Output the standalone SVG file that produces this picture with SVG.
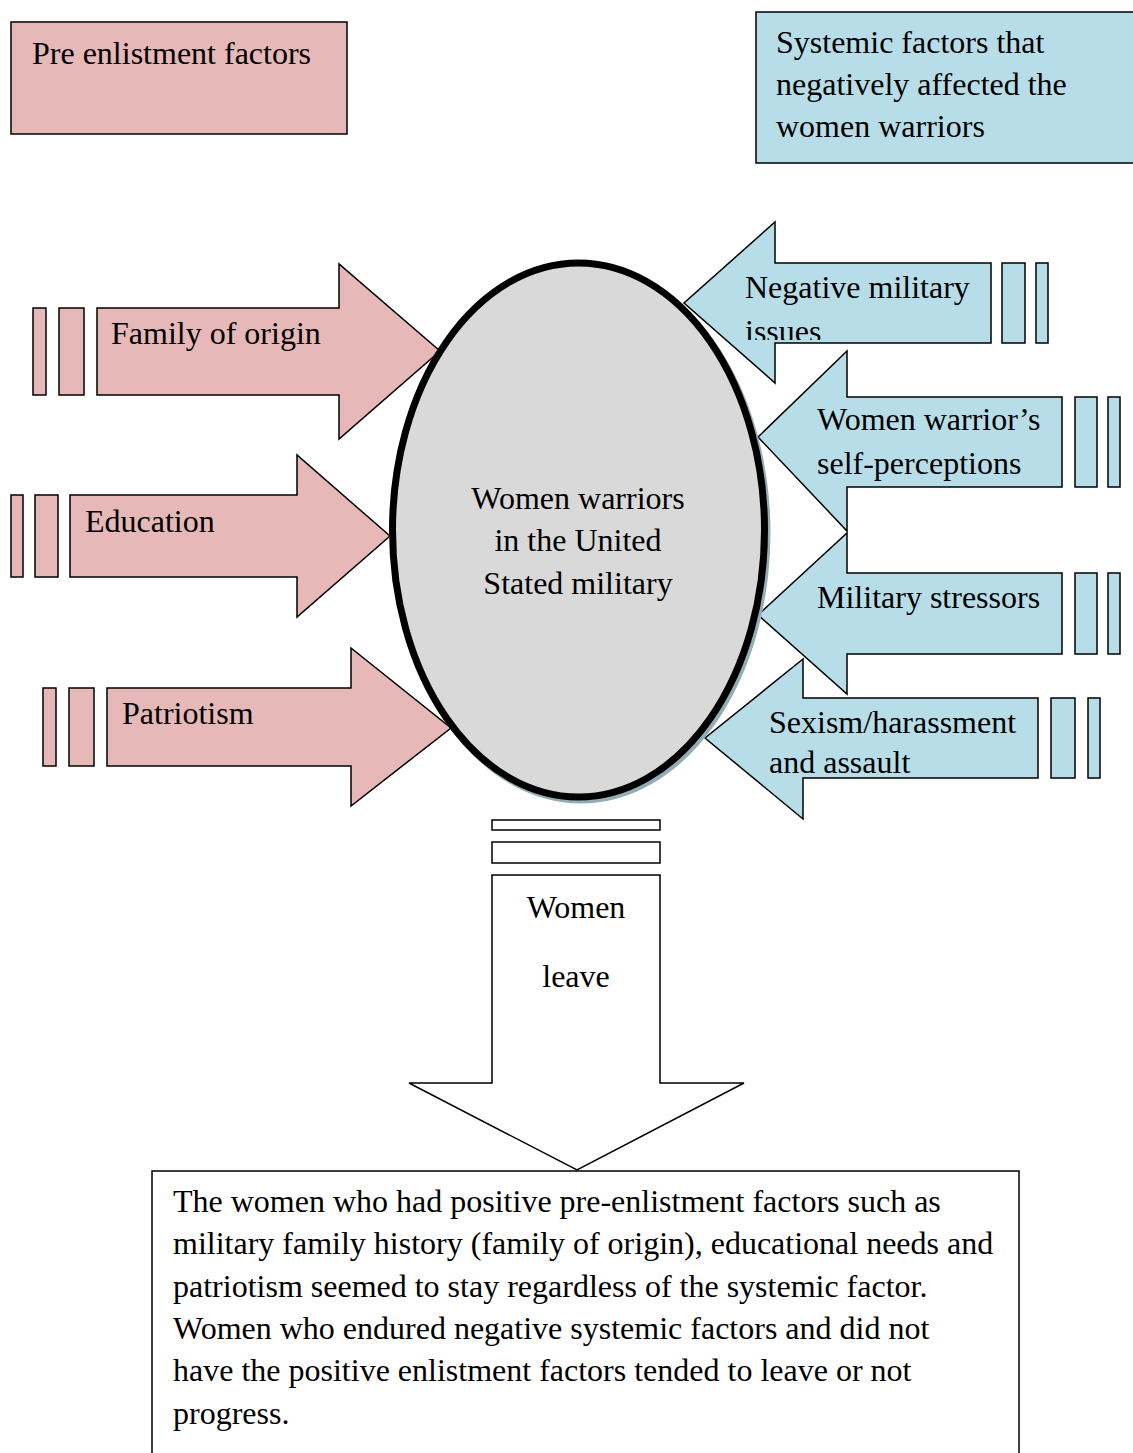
<svg xmlns="http://www.w3.org/2000/svg" width="1133" height="1453" viewBox="0 0 1133 1453">
<style>
  .pink { fill: #e6b8b7; stroke: #000; stroke-width: 1.5; stroke-linejoin: miter; }
  .blue { fill: #b7dde8; stroke: #000; stroke-width: 1.5; stroke-linejoin: miter; }
  .white { fill: #fff; stroke: #000; stroke-width: 1.5; stroke-linejoin: miter; }
  text { font-family: "Liberation Serif", "Times New Roman", serif; font-size: 32px; fill: #000; }
  .mid { text-anchor: middle; }
</style>
<defs>
  <clipPath id="clipNeg"><rect x="684" y="263" width="307" height="77"/></clipPath>
</defs>
<rect width="1133" height="1453" fill="#fff"/>

<g id="pre-enlistment-title">
  <rect class="pink" x="11" y="22" width="336" height="112"/>
  <text x="32" y="64">Pre enlistment factors</text>
</g>

<g id="systemic-title">
  <rect class="blue" x="756" y="12" width="390" height="151"/>
  <text x="776" y="53">Systemic factors that</text>
  <text x="776" y="95">negatively affected the</text>
  <text x="776" y="137">women warriors</text>
</g>

<g id="connectors">
  <g id="arrow-family">
    <rect class="pink" x="33" y="308" width="13" height="87"/>
    <rect class="pink" x="59" y="308" width="25" height="87"/>
    <path class="pink" d="M97,308 H339 V264 L440,351 L339,439 V395 H97 Z"/>
    <text x="111" y="344">Family of origin</text>
  </g>
  <g id="arrow-education">
    <rect class="pink" x="11" y="495" width="12" height="82"/>
    <rect class="pink" x="35" y="495" width="23" height="82"/>
    <path class="pink" d="M70,495 H297 V455 L390,536 L297,617 V577 H70 Z"/>
    <text x="85" y="532">Education</text>
  </g>
  <g id="arrow-patriotism">
    <rect class="pink" x="43" y="688" width="13" height="78"/>
    <rect class="pink" x="69" y="688" width="25" height="78"/>
    <path class="pink" d="M107,688 H351 V648 L451,728 L351,806 V766 H107 Z"/>
    <text x="122" y="724">Patriotism</text>
  </g>
  <g id="arrow-negative">
    <rect class="blue" x="1002" y="263" width="23" height="80"/>
    <rect class="blue" x="1036" y="263" width="12" height="80"/>
    <path class="blue" d="M991,263 H775 V222 L684,303 L775,383 V343 H991 Z"/>
    <text x="745" y="298">Negative military</text>
    <text x="745" y="342" clip-path="url(#clipNeg)">issues</text>
  </g>
  <g id="arrow-self">
    <rect class="blue" x="1075" y="397" width="22" height="90"/>
    <rect class="blue" x="1108" y="397" width="12" height="90"/>
    <path class="blue" d="M1062,397 H847 V351 L758,437 L847,531 V487 H1062 Z"/>
    <text x="817" y="430">Women warrior’s</text>
    <text x="817" y="474">self-perceptions</text>
  </g>
  <g id="arrow-stressors">
    <rect class="blue" x="1075" y="573" width="22" height="81"/>
    <rect class="blue" x="1108" y="573" width="12" height="81"/>
    <path class="blue" d="M1062,573 H847 V533 L758,615 L847,694 V654 H1062 Z"/>
    <text x="817" y="608">Military stressors</text>
  </g>
  <g id="arrow-sexism">
    <rect class="blue" x="1051" y="698" width="24" height="80"/>
    <rect class="blue" x="1088" y="698" width="12" height="80"/>
    <path class="blue" d="M1038,698 H803 V659 L705,738 L803,819 V778 H1038 Z"/>
    <text x="769" y="733">Sexism/harassment</text>
    <text x="769" y="773">and assault</text>
  </g>
  <g id="arrow-leave">
    <rect class="white" x="492" y="820" width="168" height="10"/>
    <rect class="white" x="492" y="842" width="168" height="21"/>
    <path class="white" d="M492,875 H660 V1083 H744 L577,1170 L409,1083 H492 Z"/>
    <text class="mid" x="576" y="918">Women</text>
    <text class="mid" x="576" y="987">leave</text>
  </g>
</g>

<g id="center-node">
  <ellipse cx="581" cy="533" rx="186" ry="267" fill="none" stroke="#93adb5" stroke-width="7"/>
  <ellipse cx="578.5" cy="530" rx="186" ry="267" fill="#d9d9d9" stroke="#000" stroke-width="7"/>
  <text class="mid" x="578" y="509">Women warriors</text>
  <text class="mid" x="578" y="551">in the United</text>
  <text class="mid" x="578" y="594">Stated military</text>
</g>

<g id="conclusion">
  <rect x="152" y="1171" width="867" height="300" fill="#fff" stroke="#000" stroke-width="1.5"/>
  <text x="173" y="1212">The women who had positive pre-enlistment factors such as</text>
  <text x="173" y="1254">military family history (family of origin), educational needs and</text>
  <text x="173" y="1297">patriotism seemed to stay regardless of the systemic factor.</text>
  <text x="173" y="1339">Women who endured negative systemic factors and did not</text>
  <text x="173" y="1381">have the positive enlistment factors tended to leave or not</text>
  <text x="173" y="1424">progress.</text>
</g>
</svg>
